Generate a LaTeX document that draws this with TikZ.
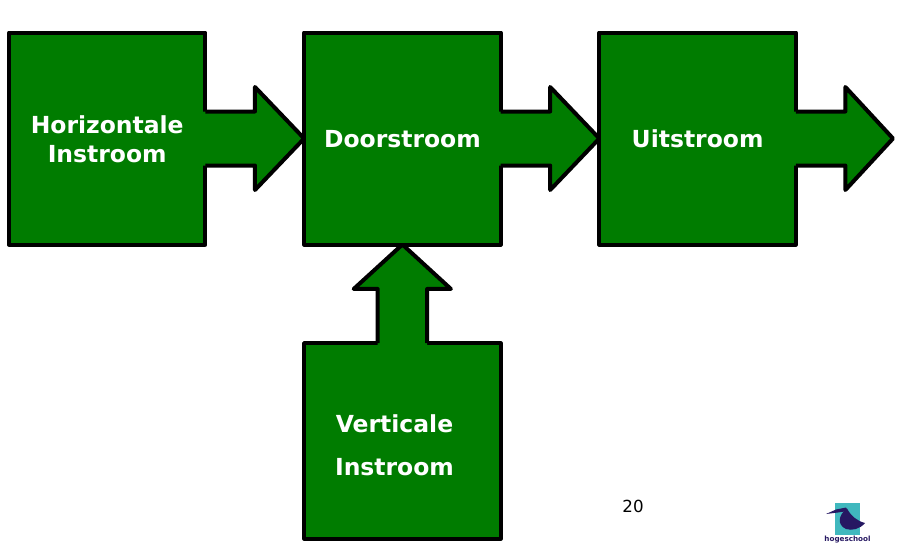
\documentclass[tikz,border=0pt]{standalone}
\usepackage{fontspec}
\setmainfont{DejaVu Sans}
\usetikzlibrary{positioning,calc}
\definecolor{stroomgroen}{RGB}{0,124,0}
\definecolor{logoblauw}{RGB}{38,24,98}
\definecolor{logoteal}{RGB}{64,184,190}
\tikzset{
	stroombox/.style={draw=black, fill=stroomgroen, line width=3pt, line join=round, outer sep=0pt, minimum width=147.4pt, minimum height=159pt},
	stroomlijn/.style={draw=black, line width=3pt, line join=round},
	stroomtekst/.style={text=white, font=\fontsize{17.6}{21.75}\selectfont\bfseries, align=center, inner sep=0pt},
}
% pijl naar rechts, vast aan de box
\newcommand{\pijlrechts}[2]{
	\fill[stroomgroen] ($(#1.east)+(-3,27)$) -- ++(52.5,0) -- ++(0,24.5) -- (#2) -- ($(#1.east)+(49.5,-51.5)$) -- ++(0,24.5) -- ++(-52.5,0) -- cycle;
	\draw[stroomlijn] ($(#1.east)+(0,27)$) -- ++(49.5,0) -- ++(0,24.5) -- (#2) -- ($(#1.east)+(49.5,-51.5)$) -- ++(0,24.5) -- ++(-49.5,0);
}
\begin{document}
\begin{tikzpicture}[x=0.75pt,y=-0.75pt,node distance=74pt]
	\useasboundingbox (0,0) rectangle (902,546);

	\node[stroombox] (hor) at (107.2,138.5) {};
	\node[stroombox,right=of hor] (door) {};
	\node[stroombox,right=of door] (uit) {};
	\node[stroombox,below=of door,minimum height=146.6pt] (vert) {};
	\coordinate (uit-tip) at (893,138.5);

	\pijlrechts{hor}{door.west}
	\pijlrechts{door}{uit.west}
	\pijlrechts{uit}{uit-tip}

	% pijl omhoog
	\fill[stroomgroen] ($(vert.north)+(-24.7,3)$) -- ++(0,-57.2) -- ++(-24,0) -- (door.south) -- ($(vert.north)+(48.5,-54.2)$) -- ++(-23.8,0) -- ++(0,57.2) -- cycle;
	\draw[stroomlijn] ($(vert.north)+(-24.7,0)$) -- ++(0,-54.2) -- ++(-24,0) -- (door.south) -- ($(vert.north)+(48.5,-54.2)$) -- ++(-23.8,0) -- ++(0,54.2);

	\node[stroomtekst] (hor-tekst) at ([yshift=-0.5pt]hor.center) {Horizontale\\Instroom};
	\node[stroomtekst] (door-tekst) at ([yshift=-0.8pt]door.center) {Doorstroom};
	\node[stroomtekst] (uit-tekst) at (uit.center) {Uitstroom};
	\node[stroomtekst] (vert-tekst1) at (394.5,423.5) {Verticale};
	\node[stroomtekst] (vert-tekst2) at (394.5,467.5) {Instroom};

	\node[font=\fontsize{12.5}{14}\selectfont,inner sep=0pt] (paginanr) at (633,506) {20};

	% logo
	\fill[logoteal] (835,503) rectangle (860,535);
	\fill[logoblauw] (826,514) -- (836,509.5) -- (846,507.5) -- (848,511) -- (838,512.5) -- cycle;
	\fill[logoblauw] (847,508.5) .. controls (851,516) and (857,521) .. (865,523) .. controls (860,529) and (852,531) .. (846,529) .. controls (837,525) and (838,515) .. (847,508.5) -- cycle;
	\node[text=logoblauw,font=\fontsize{5.4}{6}\selectfont\bfseries,inner sep=0pt] (logotekst) at (847.5,540) {hogeschool};
\end{tikzpicture}
\end{document}
